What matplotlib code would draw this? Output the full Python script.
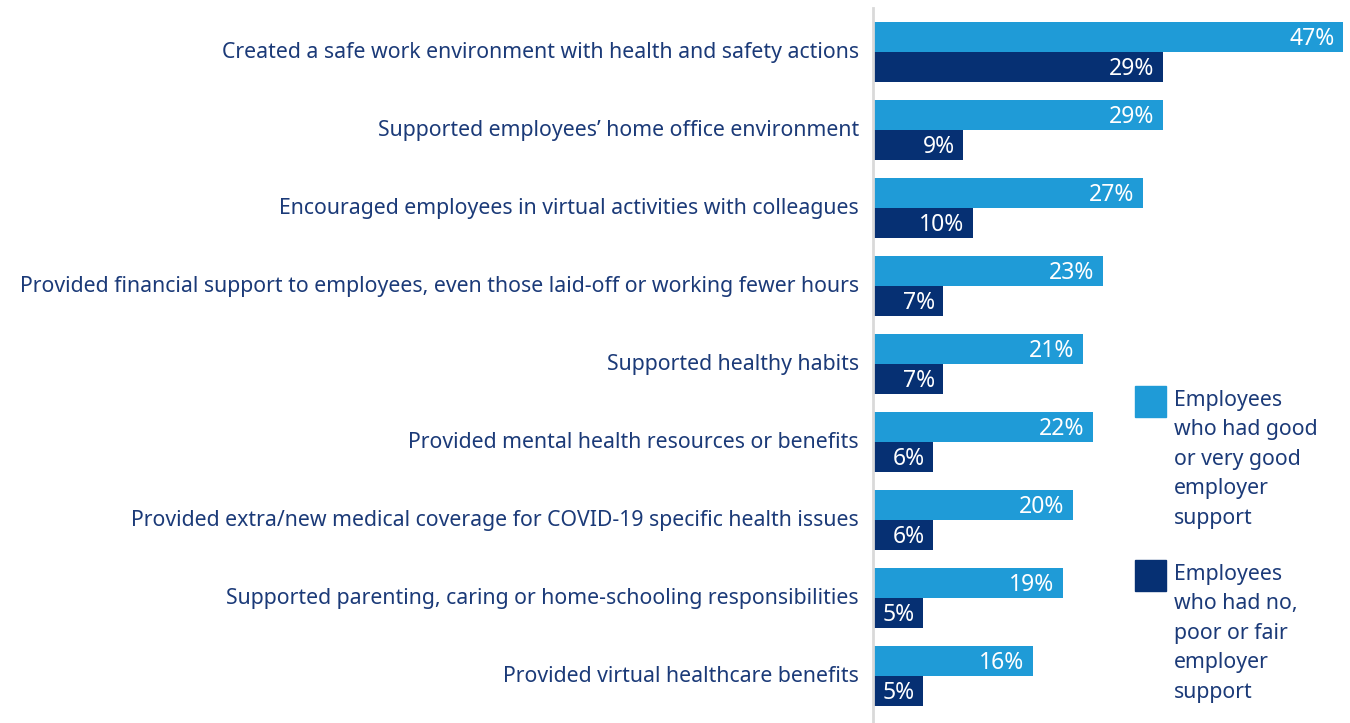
import matplotlib
matplotlib.use('Agg')
import numpy as np
import matplotlib.pyplot as plt
from matplotlib.patches import Rectangle

plt.rcParams['font.family'] = ['Noto Sans', 'DejaVu Sans']

categories = ['Created a safe work environment with health and safety actions',
              'Supported employees\u2019 home office environment',
              'Encouraged employees in virtual activities with colleagues',
              'Provided financial support to employees, even those laid-off or working fewer hours',
              'Supported healthy habits',
              'Provided mental health resources or benefits',
              'Provided extra/new medical coverage for COVID-19 specific health issues',
              'Supported parenting, caring or home-schooling responsibilities',
              'Provided virtual healthcare benefits']
good = [47, 29, 27, 23, 21, 22, 20, 19, 16]
poor = [29, 9, 10, 7, 7, 6, 6, 5, 5]
legend_labels = ['Employees\nwho had good\nor very good\nemployer\nsupport',
                 'Employees\nwho had no,\npoor or fair\nemployer\nsupport']

light = '#1f9bd7'
dark = '#063073'
txt = '#1b3a78'

W, H = 1350, 723
fig = plt.figure(figsize=(W/100, H/100), dpi=100)
ax = fig.add_axes([873/W, 0, (1343-873)/W, 715/H])

y = np.arange(len(categories))
h = 30/78
ax.barh(y - h/2, good, height=h, color=light)
ax.barh(y + h/2, poor, height=h, color=dark)

ax.set_xlim(0, 47)
ax.set_ylim((723-52)/78, (8-52)/78)

for i in range(len(categories)):
    ax.annotate(f'{good[i]}%', (good[i], y[i]-h/2), xytext=(-6, -1.5), textcoords='offset points',
                ha='right', va='center', color='white', fontsize=16.5)
    ax.annotate(f'{poor[i]}%', (poor[i], y[i]+h/2), xytext=(-6, -1.5), textcoords='offset points',
                ha='right', va='center', color='white', fontsize=16.5)

ax.set_yticks(y - 2/78)
ax.set_yticklabels(categories, fontsize=15.3, color=txt)
ax.tick_params(axis='y', length=0, pad=10)
ax.set_xticks([])
for s in ['top', 'right', 'bottom']:
    ax.spines[s].set_visible(False)
ax.spines['left'].set_color('#d9d9d9')
ax.spines['left'].set_linewidth(2)

# legend
for k, (top, col) in enumerate([(386, light), (560, dark)]):
    fig.patches.append(Rectangle((1135/W, 1-(top+31)/H), 31/W, 31/H, color=col,
                                 transform=fig.transFigure, figure=fig))
    fig.text(1174/W, 1-(top+4)/H, legend_labels[k], ha='left', va='top',
             fontsize=15.3, color=txt, linespacing=1.53)

fig.savefig('out.png', dpi=100)
